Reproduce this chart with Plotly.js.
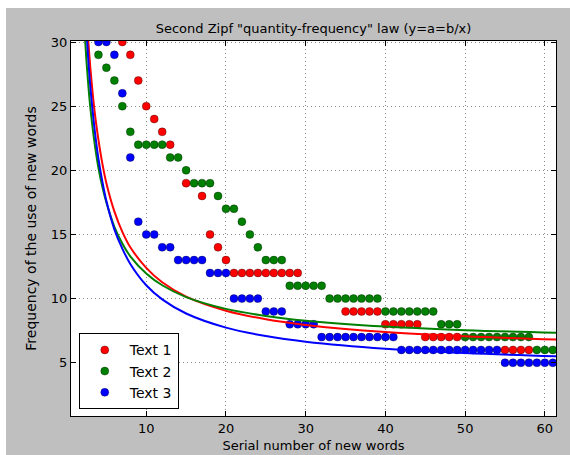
<!DOCTYPE html>
<html>
<head>
<meta charset="utf-8">
<script src="https://cdn.plot.ly/plotly-3.0.1.min.js"></script>
<style>html,body{margin:0;padding:0;background:#fff;}#chart{width:570px;height:455px;}</style>
</head>
<body>
<div id="chart"></div>
<script>
// ---- data ----
const seriesNames = ["Text 1", "Text 2", "Text 3"];

const text1X = [7,8,9,10,11,12,13,15,17,18,19,20,21,22,23,24,25,26,27,28,29,35,36,37,38,39,40,41,42,43,44,45,46,47,48,49,55,56,57,58];
const text1Y = [30,29,27,25,24,23,22,19,18,15,14,13,12,12,12,12,12,12,12,12,12,9,9,9,9,9,8,8,8,8,8,7,7,7,7,7,6,6,6,6];

const text2X = [4,5,6,7,8,9,10,11,12,13,14,15,16,17,18,19,20,21,22,23,24,25,26,27,28,29,30,31,32,33,34,35,36,37,38,39,40,41,42,43,44,45,46,47,48,49,50,51,52,53,54,55,56,57,58,59,60,61];
const text2Y = [29,28,27,25,23,22,22,22,22,21,21,20,19,19,19,18,17,17,16,15,14,13,13,13,11,11,11,11,11,10,10,10,10,10,10,10,9,9,9,9,9,9,9,8,8,8,7,7,7,7,7,7,7,7,7,6,6,6];

const text3X = [4,5,6,7,8,9,10,11,12,13,14,15,16,17,18,19,20,21,22,23,24,25,26,27,28,29,30,31,32,33,34,35,36,37,38,39,40,41,42,43,44,45,46,47,48,49,50,51,52,53,54,55,56,57,58,59,60,61];
const text3Y = [30,30,29,26,21,16,15,15,14,14,13,13,13,13,12,12,12,10,10,10,10,9,9,9,8,8,8,8,7,7,7,7,7,7,7,7,7,7,6,6,6,6,6,6,6,6,6,6,6,6,6,5,5,5,5,5,5,5];

// fitted curves
const curveX  = [2, 2.25, 2.5, 2.75, 3, 3.5, 4, 4.5, 5, 6, 7, 8, 10, 12, 15, 20, 25, 30, 40, 50, 61.5];
const curve1Y = [39.0, 35.3, 32.3, 29.9, 27.9, 24.7, 22.4, 20.5, 19.0, 16.8, 15.2, 14.0, 12.4, 11.27, 10.16, 9.06, 8.39, 7.95, 7.39, 7.06, 6.81];
const curve2Y = [34.0, 31.0, 28.5, 26.5, 24.8, 22.2, 20.2, 18.7, 17.5, 15.6, 14.3, 13.3, 11.96, 11.04, 10.12, 9.2, 8.65, 8.28, 7.82, 7.54, 7.34];
const curve3Y = [37.4, 33.8, 30.8, 28.4, 26.4, 23.3, 20.9, 19.1, 17.6, 15.4, 13.9, 12.7, 11.04, 9.94, 8.84, 7.74, 7.08, 6.64, 6.09, 5.76, 5.51];

const xTicks = [10, 20, 30, 40, 50, 60];
const yTicks = [5, 10, 15, 20, 25, 30];

const colors = ["#ff0000", "#008000", "#0000ff"];

function pts(x, y, i) {
  return {
    x: x, y: y, type: "scatter", mode: "markers", name: seriesNames[i],
    marker: {color: colors[i], size: 8, line: {color: "rgba(0,0,0,0.55)", width: 0.6}},
    cliponaxis: true
  };
}
function fit(y, i) {
  return {
    x: curveX, y: y, type: "scatter", mode: "lines", showlegend: false, hoverinfo: "skip",
    line: {color: colors[i], width: 2, shape: "spline", smoothing: 1}
  };
}

const traces = [
  pts(text1X, text1Y, 0),
  pts(text2X, text2Y, 1),
  pts(text3X, text3Y, 2),
  fit(curve1Y, 0),
  fit(curve2Y, 1),
  fit(curve3Y, 2)
];

const F = "DejaVu Sans, sans-serif";
const axisCommon = {
  showline: true, linecolor: "#000", linewidth: 1, mirror: "ticks",
  ticks: "inside", ticklen: 5, tickcolor: "#000", tickwidth: 1,
  showgrid: true, gridcolor: "#8a8a8a", griddash: "1px,3px", gridwidth: 1,
  zeroline: false, tickfont: {family: F, size: 13, color: "#000"}
};

const layout = {
  width: 570, height: 455,
  margin: {l: 71, r: 14, t: 41, b: 39},
  paper_bgcolor: "#bfbfbf", plot_bgcolor: "#ffffff",
  font: {family: F, color: "#000"},
  title: {text: 'Second Zipf "quantity-frequency" law (y=a=b/x)', font: {family: F, size: 13, color: "#000"},
          xref: "paper", x: 0.5, xanchor: "center", yref: "container", y: 1 - 28.5/455, yanchor: "middle"},
  xaxis: Object.assign({}, axisCommon, {
    range: [0.56, 61.4], tickvals: xTicks, ticktext: xTicks.map(String),
    title: {text: "Serial number of new words", font: {family: F, size: 13, color: "#000"}, standoff: 6}
  }),
  yaxis: Object.assign({}, axisCommon, {
    range: [0.85, 30.08], tickvals: yTicks, ticktext: yTicks.map(String),
    title: {text: "Frequency of the use of new words", font: {family: F, size: 14, color: "#000"}, standoff: 10}
  }),
  legend: {
    x: 0.016, y: 0.2205, xanchor: "left", yanchor: "top",
    bgcolor: "#ffffff", bordercolor: "#000", borderwidth: 1,
    font: {family: F, size: 14, color: "#000"}, itemwidth: 40, tracegroupgap: 0
  },
  shapes: [
    {type: "rect", xref: "paper", yref: "paper", x0: -0.3, x1: 1.3, y0: (416-8)/375, y1: 1.3, fillcolor: "#ffffff", line: {width: 0}, layer: "above"},
    {type: "rect", xref: "paper", yref: "paper", x0: -0.3, x1: (6-71)/485, y0: -0.3, y1: 1.3, fillcolor: "#ffffff", line: {width: 0}, layer: "above"}
  ],
  showlegend: true
};

Plotly.newPlot("chart", traces, layout, {displayModeBar: false, staticPlot: true});
</script>
</body>
</html>
